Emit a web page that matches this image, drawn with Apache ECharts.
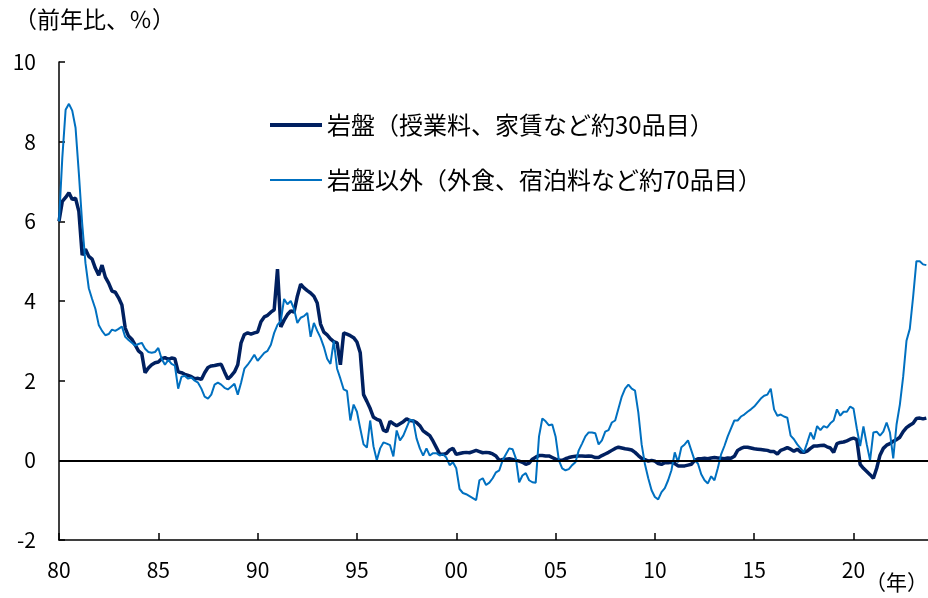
<!DOCTYPE html>
<html lang="ja">
<head>
<meta charset="utf-8">
<title>岩盤・岩盤以外の物価上昇率</title>
<script src="https://cdn.jsdelivr.net/npm/echarts@6/dist/echarts.min.js"></script>
<style>
  html, body { margin: 0; padding: 0; background: #fff; }
  #chart { width: 928px; height: 598px; }
</style>
</head>
<body>
<div id="chart"></div>
<script>
// Year-on-year change (%), sampled every two months from Jan 1980.
const startYear = 1980;
const stepMonths = 2;

// 岩盤（授業料、家賃など約30品目）
const rockBed = [
  6.0, 6.5, 6.6, 6.72, 6.55, 6.58,        // 1980
  6.25, 5.15, 5.3, 5.12, 5.05, 4.82,      // 1981
  4.65, 4.9, 4.6, 4.45, 4.25, 4.22,       // 1982
  4.08, 3.9, 3.32, 3.12, 3.04, 2.9,       // 1983
  2.75, 2.68, 2.2, 2.32, 2.4, 2.45,       // 1984
  2.47, 2.55, 2.58, 2.53, 2.57, 2.55,     // 1985
  2.22, 2.2, 2.16, 2.13, 2.1, 2.05,       // 1986
  2.06, 2.03, 2.2, 2.33, 2.37, 2.38,      // 1987
  2.4, 2.41, 2.22, 2.04, 2.12, 2.22,      // 1988
  2.4, 2.95, 3.16, 3.2, 3.17, 3.2,        // 1989
  3.22, 3.48, 3.6, 3.64, 3.72, 3.78,      // 1990
  4.8, 3.35, 3.52, 3.66, 3.75, 3.72,      // 1991
  4.12, 4.42, 4.33, 4.26, 4.2, 4.12,      // 1992
  3.95, 3.42, 3.22, 3.15, 3.05, 2.98,     // 1993
  2.95, 2.4, 3.2, 3.17, 3.13, 3.08,       // 1994
  2.97, 2.7, 1.65, 1.48, 1.3, 1.08,       // 1995
  1.03, 1.0, 0.76, 0.72, 0.98, 0.92,      // 1996
  0.87, 0.92, 0.97, 1.04, 1.0, 0.99,      // 1997
  0.95, 0.87, 0.74, 0.68, 0.62, 0.48,     // 1998
  0.32, 0.16, 0.15, 0.17, 0.26, 0.3,      // 1999
  0.15, 0.17, 0.19, 0.2, 0.19, 0.22,      // 2000
  0.25, 0.22, 0.19, 0.2, 0.19, 0.16,      // 2001
  0.11, 0.0, 0.02, 0.03, 0.04, 0.02,      // 2002
  0.0, -0.02, -0.05, -0.1, -0.07, 0.03,   // 2003
  0.08, 0.12, 0.12, 0.11, 0.11, 0.07,     // 2004
  0.03, 0.01, 0.0, 0.04, 0.07, 0.09,      // 2005
  0.1, 0.11, 0.11, 0.1, 0.11, 0.1,        // 2006
  0.07, 0.07, 0.12, 0.16, 0.2, 0.25,      // 2007
  0.3, 0.33, 0.31, 0.29, 0.28, 0.26,      // 2008
  0.2, 0.12, 0.05, 0.02, -0.02, 0.0,      // 2009
  -0.02, -0.08, -0.1, -0.06, -0.06, -0.05,// 2010
  -0.08, -0.14, -0.14, -0.14, -0.12, -0.1,// 2011
  0.0, 0.04, 0.04, 0.05, 0.04, 0.06,      // 2012
  0.07, 0.06, 0.05, 0.04, 0.06, 0.05,     // 2013
  0.1, 0.25, 0.3, 0.33, 0.33, 0.31,       // 2014
  0.29, 0.28, 0.27, 0.26, 0.25, 0.22,     // 2015
  0.22, 0.16, 0.25, 0.28, 0.32, 0.28,     // 2016
  0.23, 0.28, 0.21, 0.2, 0.23, 0.3,       // 2017
  0.36, 0.36, 0.37, 0.38, 0.34, 0.31,     // 2018
  0.2, 0.42, 0.45, 0.46, 0.49, 0.53,      // 2019
  0.56, 0.52, -0.1, -0.2, -0.28, -0.36,   // 2020
  -0.45, -0.2, 0.13, 0.3, 0.38, 0.42,     // 2021
  0.48, 0.52, 0.58, 0.72, 0.82, 0.88,     // 2022
  0.93, 1.05, 1.06, 1.04, 1.06            // 2023
];

// 岩盤以外（外食、宿泊料など約70品目）
const nonRockBed = [
  6.0, 7.6, 8.8, 8.95, 8.78, 8.35,        // 1980
  7.2, 5.95, 4.95, 4.32, 4.05, 3.8,       // 1981
  3.4, 3.25, 3.14, 3.17, 3.28, 3.25,      // 1982
  3.3, 3.36, 3.1, 3.02, 2.95, 2.88,       // 1983
  2.92, 2.95, 2.8, 2.72, 2.7, 2.72,       // 1984
  2.82, 2.55, 2.4, 2.52, 2.42, 2.38,      // 1985
  1.8, 2.1, 2.12, 2.05, 2.08, 2.0,        // 1986
  1.95, 1.8, 1.6, 1.55, 1.65, 1.9,        // 1987
  1.95, 1.9, 1.82, 1.78, 1.85, 1.92,      // 1988
  1.65, 1.95, 2.3, 2.4, 2.52, 2.65,       // 1989
  2.5, 2.6, 2.7, 2.75, 2.9, 3.2,          // 1990
  3.4, 3.5, 4.05, 3.92, 4.0, 3.8,         // 1991
  3.45, 3.58, 3.62, 3.7, 3.1, 3.45,       // 1992
  3.25, 3.08, 2.85, 2.55, 2.42, 3.0,      // 1993
  2.3, 2.05, 1.78, 1.74, 1.0, 1.4,        // 1994
  1.22, 0.8, 0.4, 0.32, 1.0, 0.35,        // 1995
  0.0, 0.3, 0.45, 0.42, 0.38, 0.1,        // 1996
  0.75, 0.5, 0.62, 0.82, 1.02, 1.0,       // 1997
  0.55, 0.3, 0.12, 0.3, 0.12, 0.18,       // 1998
  0.18, 0.12, 0.15, 0.07, -0.12, -0.05,   // 1999
  -0.2, -0.72, -0.82, -0.85, -0.9, -0.95, // 2000
  -1.0, -0.5, -0.45, -0.62, -0.56, -0.45, // 2001
  -0.3, -0.25, 0.0, 0.15, 0.3, 0.28,      // 2002
  0.05, -0.55, -0.38, -0.32, -0.5, -0.55, // 2003
  -0.56, 0.6, 1.05, 0.98, 0.88, 0.9,      // 2004
  0.6, 0.0, -0.2, -0.25, -0.22, -0.12,    // 2005
  -0.05, 0.25, 0.42, 0.6, 0.7, 0.7,       // 2006
  0.68, 0.4, 0.5, 0.72, 0.76, 0.95,       // 2007
  1.0, 1.3, 1.6, 1.8, 1.9, 1.8,           // 2008
  1.75, 1.2, 0.4, -0.1, -0.45, -0.75,     // 2009
  -0.92, -0.98, -0.8, -0.7, -0.5, -0.25,  // 2010
  0.2, -0.05, 0.33, 0.4, 0.5, 0.25,       // 2011
  0.0, -0.08, -0.35, -0.5, -0.58, -0.4,   // 2012
  -0.5, -0.2, 0.15, 0.36, 0.6, 0.8,       // 2013
  1.0, 1.0, 1.1, 1.15, 1.22, 1.28,        // 2014
  1.35, 1.45, 1.55, 1.62, 1.65, 1.8,      // 2015
  1.28, 1.12, 1.15, 1.1, 1.07, 0.62,      // 2016
  0.53, 0.4, 0.3, 0.2, 0.44, 0.7,         // 2017
  0.53, 0.86, 0.76, 0.86, 0.82, 0.93,     // 2018
  1.0, 1.28, 1.12, 1.22, 1.22, 1.35,      // 2019
  1.3, 0.8, 0.36, 0.85, 0.4, 0.0,         // 2020
  0.7, 0.72, 0.62, 0.72, 0.95, 0.7,       // 2021
  0.05, 0.9, 1.4, 2.1, 3.0, 3.3,          // 2022
  4.1, 5.0, 5.0, 4.92, 4.9                // 2023
];

const seriesNames = ['岩盤（授業料、家賃など約30品目）', '岩盤以外（外食、宿泊料など約70品目）'];
const xTickYears = [1980, 1985, 1990, 1995, 2000, 2005, 2010, 2015, 2020];
const yMin = -2, yMax = 10, yStep = 2;
const xMin = 1980, xMax = 2023.75;

const FONT = '"Noto Sans CJK JP", "Noto Sans", sans-serif';
const toPairs = arr => arr.map((v, i) => [startYear + i * stepMonths / 12, v]);

const chart = echarts.init(document.getElementById('chart'), null, { renderer: 'canvas' });

const legendBase = {
  left: 270, padding: 0,
  itemWidth: 52, itemHeight: 14, itemGap: 0, itemTextGap: 6,
  textStyle: { fontFamily: FONT, fontSize: 24, color: '#000' }
};

chart.setOption({
  animation: false,
  backgroundColor: '#ffffff',
  textStyle: { fontFamily: FONT, color: '#000' },
  grid: { left: 59, right: 0, top: 62, bottom: 58, containLabel: false },
  title: {
    text: '（前年比、％）',
    left: 9, top: 3,
    textStyle: { fontFamily: FONT, fontSize: 23, fontWeight: 'normal', color: '#000' }
  },
  legend: [
    Object.assign({}, legendBase, {
      data: [seriesNames[0]], top: 113,
      icon: 'path://M0,0H52V4H0Z'
    }),
    Object.assign({}, legendBase, {
      data: [seriesNames[1]], top: 168,
      icon: 'path://M0,0H52V2H0Z'
    })
  ],
  xAxis: {
    type: 'value',
    min: xMin, max: xMax, interval: 5,
    axisLine: { show: true, onZero: false, lineStyle: { color: '#000', width: 1.5 } },
    axisTick: { show: true, inside: true, length: 7, lineStyle: { color: '#000', width: 1.5 }, customValues: xTickYears },
    axisLabel: {
      customValues: xTickYears,
      margin: 20,
      fontFamily: FONT, fontSize: 21, color: '#000',
      formatter: v => String(Math.round(v) % 100).padStart(2, '0')
    },
    splitLine: { show: false }
  },
  yAxis: {
    type: 'value',
    min: yMin, max: yMax, interval: yStep,
    axisLine: { show: true, onZero: false, lineStyle: { color: '#000', width: 1.5 } },
    axisTick: { show: true, inside: true, length: 6, lineStyle: { color: '#000', width: 1.5 } },
    axisLabel: { margin: 23, fontFamily: FONT, fontSize: 21, color: '#000' },
    splitLine: { show: false }
  },
  graphic: [
    {
      type: 'text',
      right: 0, top: 572,
      style: { text: '（年）', font: '21px ' + FONT, fill: '#000' }
    }
  ],
  series: [
    {
      name: seriesNames[0],
      type: 'line',
      data: toPairs(rockBed),
      showSymbol: false, symbol: 'none',
      lineStyle: { color: '#002060', width: 3.5 },
      itemStyle: { color: '#002060' },
      z: 3,
      markLine: {
        silent: true, symbol: 'none',
        label: { show: false },
        lineStyle: { color: '#000', width: 2, type: 'solid' },
        data: [{ yAxis: 0 }],
        z: 5
      }
    },
    {
      name: seriesNames[1],
      type: 'line',
      data: toPairs(nonRockBed),
      showSymbol: false, symbol: 'none',
      lineStyle: { color: '#0070C0', width: 2 },
      itemStyle: { color: '#0070C0' },
      z: 4
    }
  ]
});
</script>
</body>
</html>
